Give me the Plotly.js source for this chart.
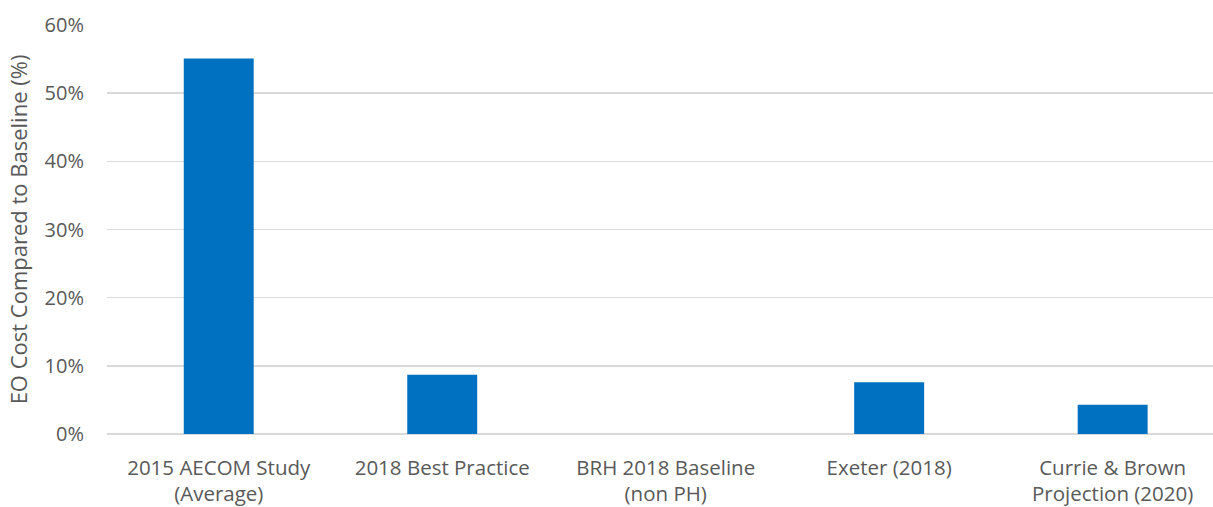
<!DOCTYPE html>
<html>
<head>
<meta charset="utf-8">
<script src="https://cdn.plot.ly/plotly-3.0.1.min.js"></script>
<style>html,body{margin:0;padding:0;background:#fff;}#chart{width:1213px;height:507px;}</style>
</head>
<body>
<div id="chart"></div>
<script>
const categories = [
  "2015 AECOM Study<br>(Average)",
  "2018 Best Practice",
  "BRH 2018 Baseline<br>(non PH)",
  "Exeter (2018)",
  "Currie & Brown<br>Projection (2020)"
];
const eoCostPct = [55.1, 8.7, 0, 7.6, 4.3];
const yTickValues = [0, 10, 20, 30, 40, 50, 60];

const fontFamily = "Open Sans, Noto Sans, sans-serif";
const textColor = "#595959";

const trace = {
  type: "bar",
  x: [0, 1, 2, 3, 4],
  y: eoCostPct,
  width: 0.313,
  marker: {color: "#0070C0"},
  hoverinfo: "skip"
};

const layout = {
  width: 1213,
  height: 507,
  margin: {l: 107, r: 0, t: 25, b: 73, pad: 0},
  paper_bgcolor: "#ffffff",
  plot_bgcolor: "#ffffff",
  showlegend: false,
  font: {family: fontFamily, color: textColor, size: 20},
  xaxis: {
    range: [-0.5, 4.449],
    tickmode: "array",
    tickvals: [0, 1, 2, 3, 4],
    ticktext: categories,
    showgrid: false,
    zeroline: false,
    showline: false,
    ticks: "",
    ticklabelstandoff: 19,
    tickfont: {family: fontFamily, color: textColor, size: 20.5},
    fixedrange: true
  },
  yaxis: {
    range: [0, 60],
    tickmode: "array",
    tickvals: yTickValues,
    ticktext: yTickValues.map(v => v + "%"),
    showgrid: true,
    gridcolor: "#D9D9D9",
    gridwidth: 1.5,
    zeroline: true,
    zerolinecolor: "#D9D9D9",
    zerolinewidth: 1.5,
    showline: false,
    ticks: "",
    ticklabelstandoff: 22,
    tickfont: {family: fontFamily, color: textColor, size: 20},
    title: {text: "EO Cost Compared to Baseline (%)", font: {family: fontFamily, color: textColor, size: 22}, standoff: 10},
    automargin: false,
    fixedrange: true
  }
};

Plotly.newPlot("chart", [trace], layout, {displayModeBar: false, staticPlot: true});
</script>
</body>
</html>
